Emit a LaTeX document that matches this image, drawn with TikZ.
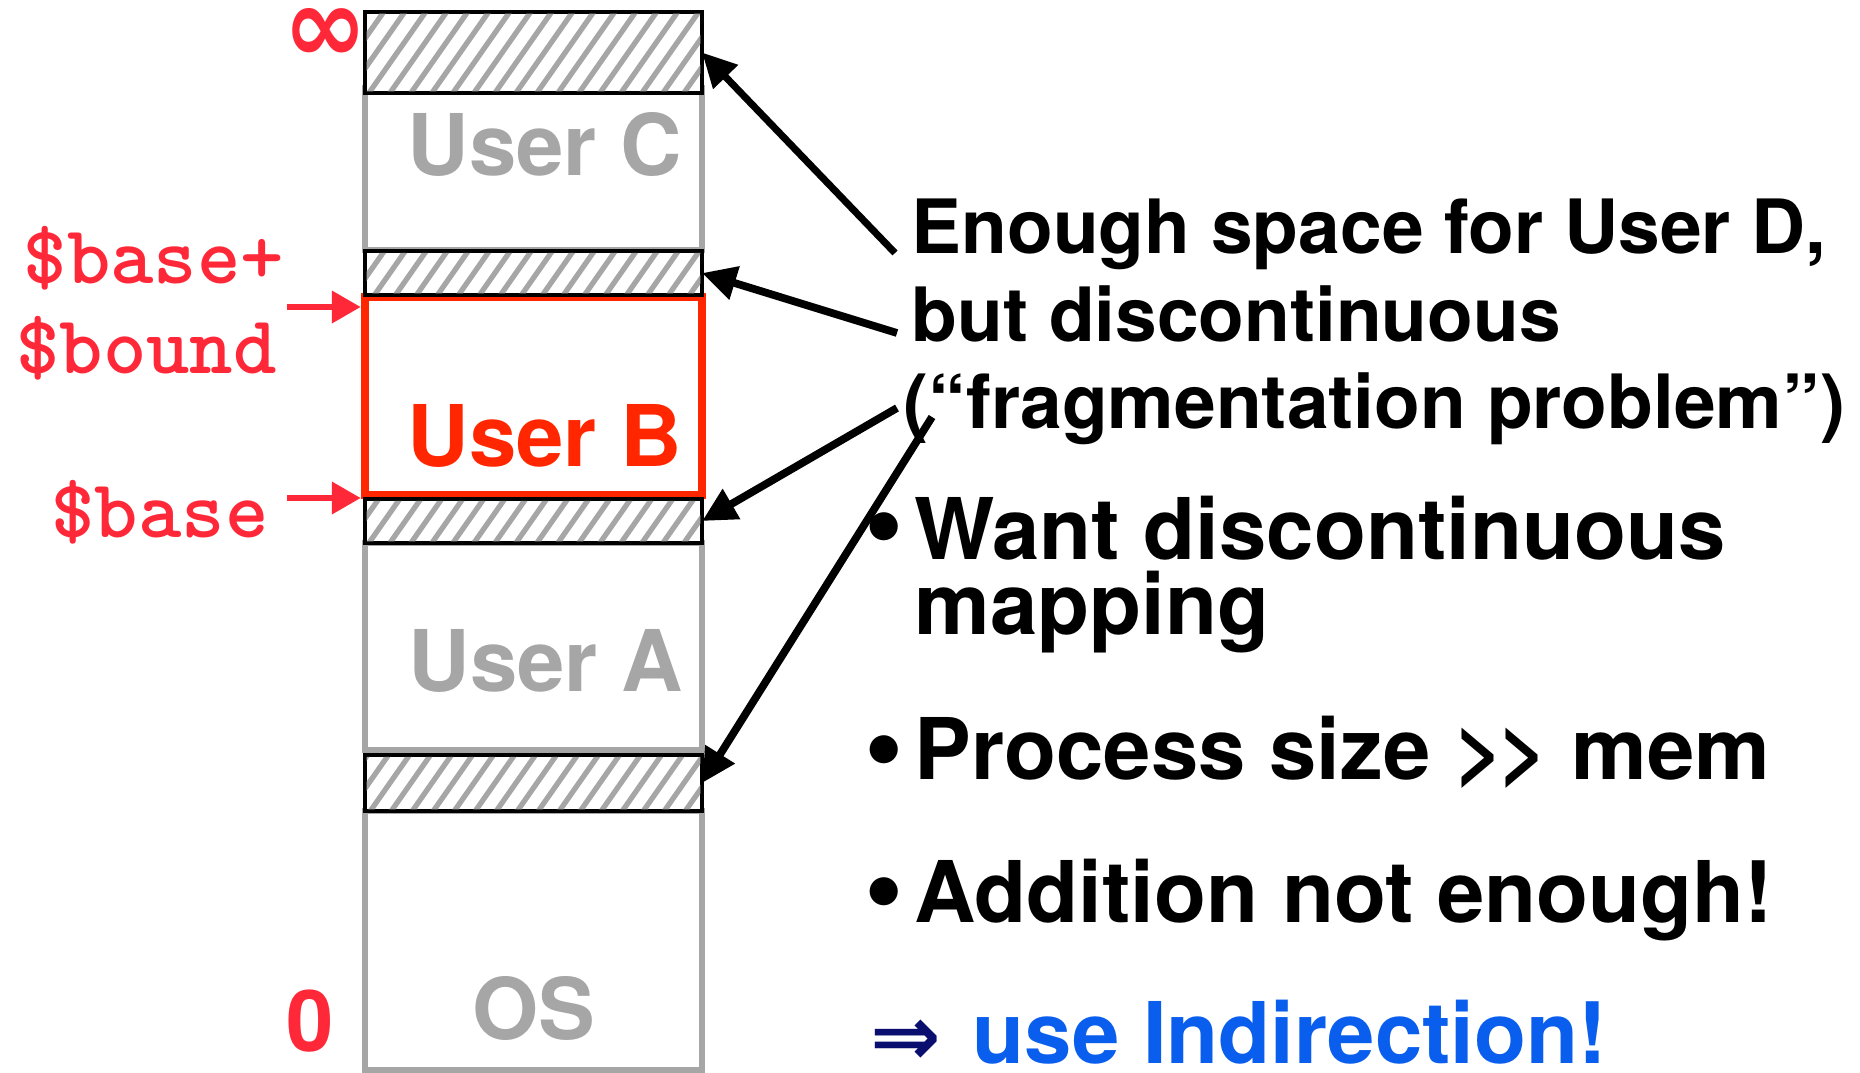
\documentclass[tikz,border=0pt]{standalone}
\usepackage{fontspec}
\usepackage{graphicx}
\setmainfont{TeX Gyre Heros}
\newfontfamily\symbolfont{DejaVu Sans}
\usetikzlibrary{arrows.meta}

\definecolor{memgray}{RGB}{166,166,166}
\definecolor{userred}{RGB}{255,38,0}
\definecolor{regred}{RGB}{255,40,56}
\definecolor{indirblue}{RGB}{10,94,238}
\definecolor{impliesnavy}{RGB}{10,14,110}

\tikzset{
  membox/.style={draw=memgray, line width=1.6pt, inner sep=0pt, minimum width=3.37cm},
  userbox/.style={draw=userred, line width=2.3pt, inner sep=0pt, minimum width=3.37cm},
  holebox/.style={draw=black, fill=white, line width=1pt, inner sep=0pt, outer sep=0pt, minimum width=3.37cm},
  stripe/.style={draw=memgray, line width=1.5pt},
  userlabel/.style={font=\bfseries\fontsize{24.2}{29}\selectfont, text=memgray, inner sep=0pt, anchor=base},
  reglabel/.style={font=\ttfamily\bfseries\fontsize{23.5}{28}\selectfont, text=regred, inner sep=0pt, anchor=base},
  notetext/.style={font=\bfseries\fontsize{21.3}{25}\selectfont, inner sep=0pt, anchor=base west},
  pointtext/.style={font=\bfseries\fontsize{24.2}{29}\selectfont, inner sep=0pt, anchor=base west},
  bulletmark/.style={font=\bfseries\fontsize{32}{38}\selectfont, inner sep=0pt},
  holearrow/.style={-{Triangle[length=0.34cm,width=0.33cm]}, line width=2.2pt},
  regarrow/.style={-{Triangle[length=0.29cm,width=0.31cm]}, draw=regred, line width=1.9pt},
}

\begin{document}
\begin{tikzpicture}[x=0.01cm,y=-0.01cm]
  \useasboundingbox (0,0) rectangle (1860,1072);

  % Memory regions
  \node[membox, minimum height=1.62cm] (userC) at (533.5,169) {};
  \node[membox, minimum height=2.07cm] (userA) at (533.5,646.5) {};
  \node[membox, minimum height=2.59cm] (os) at (533.5,940.5) {};
  \node[userbox, minimum height=1.98cm] (userB) at (533.5,396) {};

  % Free holes
  \node[holebox, minimum height=0.81cm] (hole1) at (533.5,52.5) {};
  \node[holebox, minimum height=0.44cm] (hole2) at (533.5,273) {};
  \node[holebox, minimum height=0.44cm] (hole3) at (533.5,521) {};
  \node[holebox, minimum height=0.56cm] (hole4) at (533.5,783) {};

  % Hatching of the holes
  \begin{scope}
    \clip ([shift={(0.5pt,0.5pt)}]hole1.south west) rectangle ([shift={(-0.5pt,-0.5pt)}]hole1.north east)
          ([shift={(0.5pt,0.5pt)}]hole2.south west) rectangle ([shift={(-0.5pt,-0.5pt)}]hole2.north east)
          ([shift={(0.5pt,0.5pt)}]hole3.south west) rectangle ([shift={(-0.5pt,-0.5pt)}]hole3.north east)
          ([shift={(0.5pt,0.5pt)}]hole4.south west) rectangle ([shift={(-0.5pt,-0.5pt)}]hole4.north east);
    \foreach \x in {-420,-399,...,710}
      \draw[stripe] (\x,1100) -- ++(770,-1100);
  \end{scope}

  % Region names
  \node[userlabel] (labC) at (545,175) {User C};
  \node[userlabel, text=userred] (labB) at (545,466) {User B};
  \node[userlabel] (labA) at (546,691) {User A};
  \node[userlabel] (labOS) at (534,1039) {OS};

  % Address ends
  \node[text=regred, inner sep=0pt] (top) at (326,35) {\resizebox{0.84cm}{0.54cm}{\symbolfont\bfseries ∞}};
  \node[userlabel, text=regred] (bottom) at (310,1051) {0};

  % Registers
  \node[reglabel] (baseplus) at (154,283) {\$base+};
  \node[reglabel] (bound) at (146.5,373) {\$bound};
  \node[reglabel] (base) at (160,537) {\$base};
  \coordinate (boundtail) at (287,307);
  \coordinate (basetail) at (287,498);
  \draw[regarrow] (boundtail) -- (boundtail -| userB.west);
  \draw[regarrow] (basetail) -- (basetail -| userB.west);

  % Note on the holes
  \node[notetext] (enough) at (911,253) {Enough space for User D,};
  \node[notetext] (butdisc) at (911,341) {but discontinuous};
  \node[notetext] (fragprob) at (903,428) {(“fragmentation problem”)};
  \coordinate (fromhole1) at (895,253);
  \coordinate (fromhole2) at (897,333);
  \coordinate (fromhole3) at (897,408);
  \coordinate (fromhole4) at (932,417);
  \draw[holearrow, line width=2pt] (fromhole1) -- (hole1.east);
  \draw[holearrow] (fromhole2) -- (hole2.east);
  \draw[holearrow] (fromhole3) -- (hole3.east);
  \draw[holearrow] (fromhole4) -- (hole4.east);

  % Points
  \node[bulletmark] (dot1) at (884,537) {•};
  \node[pointtext] (want) at (914,559) {Want discontinuous};
  \node[pointtext] (mapping) at (914,634) {mapping};
  \node[bulletmark] (dot2) at (884,760) {•};
  \node[pointtext] (process) at (914,779) {Process size >\kern-0.06em> mem};
  \node[bulletmark] (dot3) at (884,902) {•};
  \node[pointtext] (addition) at (914,922) {Addition not enough!};

  % Conclusion
  \node[font=\symbolfont\bfseries\fontsize{24}{29}\selectfont, text=impliesnavy, inner sep=0pt] (implies) at (906,1043) {⇒};
  \node[pointtext, text=indirblue] (indirection) at (972,1063) {use Indirection!};
\end{tikzpicture}
\end{document}
